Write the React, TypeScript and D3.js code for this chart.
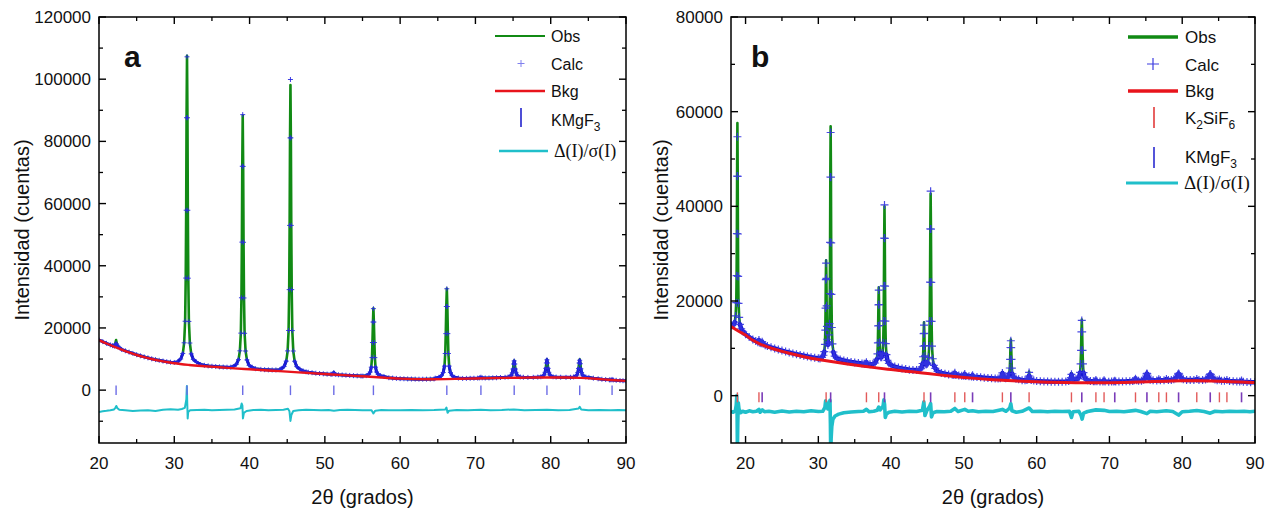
import React from "react";
import * as d3 from "d3";

type P = [number, number];

// ---------- axis ticks ----------
const xMajor = [20, 30, 40, 50, 60, 70, 80, 90];
const xMinor = [25, 35, 45, 55, 65, 75, 85];
const yMajorA = [0, 20000, 40000, 60000, 80000, 100000, 120000];
const yMinorA = [-10000, 10000, 30000, 50000, 70000, 90000, 110000];
const yMajorB = [0, 20000, 40000, 60000, 80000];
const yMinorB = [10000, 30000, 50000, 70000];

// ---------- panel a ----------
const obsA: P[] = [
  [20,16150],[20.5,15600],[21,15050],[21.5,14550],[21.8,14300],[22.05,14330],[22.17,15050],[22.27,16100],[22.37,14950],[22.5,14080],[22.75,13610],
  [23,13100],[23.5,12650],[24,12220],[24.5,11800],[25,11400],[25.5,11040],[26,10700],[26.5,10380],[27,10080],[27.5,9820],[28,9580],[28.5,9350],[29,9140],[29.5,8980],[30,8900],
  [30.43,9100],[30.85,10020],[31.13,11770],[31.31,15220],[31.44,22160],[31.52,36040],[31.58,57860],[31.63,87610],[31.69,107500],[31.75,87600],[31.8,57850],[31.86,36000],[31.94,22100],[32.07,15150],[32.25,11650],[32.53,9880],[32.95,9050],
  [33.5,8250],[34,7980],[34.5,7800],[35,7680],[35.5,7580],[36,7480],[36.5,7420],[37,7380],[37.5,7400],
  [37.83,7600],[38.25,8330],[38.53,9800],[38.71,12640],[38.84,18330],[38.92,29710],[38.98,47600],[39.03,72000],[39.09,88300],[39.15,71950],[39.2,47550],[39.26,29650],[39.34,18280],[39.47,12580],[39.65,9720],[39.93,8000],[40.35,7350],
  [40.8,6900],[41.5,6680],[42,6580],[42.5,6520],[43,6480],[43.5,6500],[44,6600],
  [44.17,6790],[44.59,7610],[44.87,9270],[45.05,12490],[45.18,18940],[45.26,31820],[45.32,52080],[45.37,79690],[45.43,98100],[45.49,79690],[45.54,52080],[45.6,31820],[45.68,18900],[45.81,12450],[45.99,9220],[46.27,7550],[46.69,6700],
  [47.1,6200],[47.5,5900],[47.8,5750],[48.3,5600],[48.8,5450],[49.3,5350],[49.8,5250],[50.3,5150],[50.8,5100],
  [50.95,5100],[51.09,5350],[51.19,5800],[51.29,5350],[51.45,5020],[51.8,4950],[52.3,4880],[52.8,4800],[53.3,4730],[53.8,4660],[54.3,4600],[54.8,4530],
  [55.05,4520],[55.5,4670],[55.82,5070],[56.03,5840],[56.17,7380],[56.26,10460],[56.32,15300],[56.39,21900],[56.45,26300],[56.51,21900],[56.58,15300],[56.64,10460],[56.73,7380],[56.87,5840],[57.08,5070],[57.4,4650],[57.85,4400],
  [58.5,4000],[59,3870],[59.5,3770],[60,3700],[60.5,3650],[61,3600],[61.5,3570],[62,3540],[62.5,3520],[63,3520],[63.5,3530],[64,3550],[64.5,3600],
  [64.66,3850],[65.15,4140],[65.5,4670],[65.72,5680],[65.89,7720],[65.99,11780],[66.06,18170],[66.13,26890],[66.2,32700],[66.27,26890],[66.34,18170],[66.41,11780],[66.51,7720],[66.68,5680],[66.9,4670],[67.25,4140],[67.74,3880],
  [68.3,3760],[68.8,3780],[69.3,3800],[69.8,3830],[70.3,3870],[70.55,3950],[70.73,4200],[70.9,3950],[71.3,3900],[71.8,3920],[72.3,3950],[72.8,3980],
  [73.33,4060],[73.93,4140],[74.34,4240],[74.6,4430],[74.79,4810],[74.9,5580],[74.99,6780],[75.07,8410],[75.15,9500],[75.23,8410],[75.31,6780],[75.4,5580],[75.51,4810],[75.7,4430],[75.96,4240],[76.37,4140],[76.97,4100],
  [77.68,4130],[78.28,4200],[78.69,4300],[78.95,4510],[79.14,4910],[79.25,5720],[79.34,7000],[79.42,8740],[79.5,9900],[79.58,8740],[79.66,7000],[79.75,5720],[79.86,4910],[80.05,4510],[80.31,4300],[80.72,4200],[81.32,4150],
  [82.03,4120],[82.63,4140],[83.04,4250],[83.3,4460],[83.49,4870],[83.6,5690],[83.69,6980],[83.77,8730],[83.85,9900],[83.93,8730],[84.01,6980],[84.1,5690],[84.21,4870],[84.4,4460],[84.66,4250],[85.07,4100],[85.67,3850],
  [86.3,3650],[86.8,3500],[87.3,3400],[87.8,3300],[88,3300],[88.15,3500],[88.3,3270],[88.7,3150],[89.2,3080],[89.6,3030],[90,2990],
];

const calcA: P[] = [
  [20,16100],[20.5,15600],[21,15050],[21.5,14550],[21.8,14300],[22.05,14170],[22.17,14520],[22.27,15000],[22.37,14500],[22.5,13950],[22.75,13610],
  [23,13100],[23.5,12650],[24,12220],[24.5,11800],[25,11400],[25.5,11040],[26,10700],[26.5,10380],[27,10080],[27.5,9820],[28,9580],[28.5,9350],[29,9140],[29.5,8980],[30,8900],
  [30.43,9100],[30.85,10020],[31.13,11770],[31.31,15220],[31.44,22160],[31.52,36040],[31.58,57860],[31.63,87610],[31.69,107200],[31.75,87600],[31.8,57850],[31.86,36000],[31.94,22100],[32.07,15150],[32.25,11650],[32.53,9880],[32.95,9050],
  [33.5,8250],[34,7980],[34.5,7800],[35,7680],[35.5,7580],[36,7480],[36.5,7420],[37,7380],[37.5,7400],
  [37.83,7600],[38.25,8330],[38.53,9800],[38.71,12640],[38.84,18330],[38.92,29710],[38.98,47600],[39.03,72000],[39.09,88600],[39.15,71950],[39.2,47550],[39.26,29650],[39.34,18280],[39.47,12580],[39.65,9720],[39.93,8000],[40.35,7350],
  [40.8,6900],[41.5,6680],[42,6580],[42.5,6520],[43,6480],[43.5,6500],[44,6600],
  [44.17,6800],[44.59,7640],[44.87,9330],[45.05,12620],[45.18,19190],[45.26,32330],[45.32,52980],[45.37,81130],[45.43,99900],[45.49,81130],[45.54,52980],[45.6,32330],[45.68,19150],[45.81,12580],[45.99,9280],[46.27,7580],[46.69,6700],
  [47.1,6200],[47.5,5900],[47.8,5750],[48.3,5600],[48.8,5450],[49.3,5350],[49.8,5250],[50.3,5150],[50.8,5100],
  [50.95,5100],[51.09,5300],[51.19,5650],[51.29,5300],[51.45,5020],[51.8,4950],[52.3,4880],[52.8,4800],[53.3,4730],[53.8,4660],[54.3,4600],[54.8,4530],
  [55.05,4520],[55.5,4670],[55.82,5070],[56.03,5840],[56.17,7380],[56.26,10460],[56.32,15300],[56.39,21900],[56.45,26200],[56.51,21900],[56.58,15300],[56.64,10460],[56.73,7380],[56.87,5840],[57.08,5070],[57.4,4650],[57.85,4400],
  [58.5,4000],[59,3870],[59.5,3770],[60,3700],[60.5,3650],[61,3600],[61.5,3570],[62,3540],[62.5,3520],[63,3520],[63.5,3530],[64,3550],[64.5,3600],
  [64.66,3850],[65.15,4140],[65.5,4670],[65.72,5680],[65.89,7720],[65.99,11780],[66.06,18170],[66.13,26890],[66.2,32600],[66.27,26890],[66.34,18170],[66.41,11780],[66.51,7720],[66.68,5680],[66.9,4670],[67.25,4140],[67.74,3880],
  [68.3,3760],[68.8,3780],[69.3,3800],[69.8,3830],[70.3,3870],[70.55,3950],[70.73,4150],[70.9,3950],[71.3,3900],[71.8,3920],[72.3,3950],[72.8,3980],
  [73.33,4060],[73.93,4140],[74.34,4240],[74.6,4430],[74.79,4810],[74.9,5580],[74.99,6780],[75.07,8410],[75.15,9400],[75.23,8410],[75.31,6780],[75.4,5580],[75.51,4810],[75.7,4430],[75.96,4240],[76.37,4140],[76.97,4100],
  [77.68,4130],[78.28,4200],[78.69,4300],[78.95,4510],[79.14,4910],[79.25,5720],[79.34,7000],[79.42,8740],[79.5,9750],[79.58,8740],[79.66,7000],[79.75,5720],[79.86,4910],[80.05,4510],[80.31,4300],[80.72,4200],[81.32,4150],
  [82.03,4120],[82.63,4140],[83.04,4250],[83.3,4460],[83.49,4870],[83.6,5690],[83.69,6980],[83.77,8730],[83.85,9600],[83.93,8500],[84.01,6850],[84.1,5690],[84.21,4870],[84.4,4460],[84.66,4250],[85.07,4100],[85.67,3850],
  [86.3,3650],[86.8,3500],[87.3,3400],[87.8,3300],[88,3300],[88.15,3450],[88.3,3270],[88.7,3150],[89.2,3080],[89.6,3030],[90,2990],
];

const bkgA: P[] = [
  [20,16100],[21,15000],[22,14000],[23,13050],[24,12150],[25,11300],[26,10600],[27,10000],[28,9500],[29,9050],[30,8650],
  [32,8100],[34,7700],[36,7350],[38,7000],[40,6700],[42,6400],[44,6100],[46,5800],[48,5500],[50,5200],[52,4900],[54,4600],
  [56,4300],[58,4000],[60,3700],[62,3550],[64,3500],[66,3550],[68,3650],[70,3750],[72,3850],[74,3950],[76,4000],[78,4050],
  [80,4050],[82,4050],[84,3950],[86,3650],[88,3280],[90,2980],
];

const diffA: P[] = [
  [20,-7000],[20.5,-6800],[21,-6650],[21.5,-6450],[22,-6200],[22.2,-5600],[22.3,-5100],[22.45,-5800],[22.7,-6300],[23.5,-6500],[24.5,-6700],
  [25.5,-6550],[26.5,-6450],[27.5,-6700],[28.5,-6300],[29.5,-6150],[30.5,-6300],[31,-6050],[31.4,-5700],[31.6,-3000],[31.67,1300],[31.72,-4000],
  [31.78,-9100],[31.85,-7000],[32.1,-6500],[33,-6350],[34,-6300],[35,-6500],[36,-6400],[37,-6300],[38,-6200],[38.8,-5800],[38.95,-4300],
  [39.05,-5000],[39.12,-9100],[39.25,-7300],[39.6,-6700],[40.5,-6400],[41.5,-6300],[42.5,-6500],[43.5,-6400],[44.5,-6300],[45.1,-6000],
  [45.3,-6800],[45.43,-9900],[45.55,-8000],[45.8,-6700],[46.5,-6500],[47.5,-6300],[48.5,-6400],[49.5,-6500],[50.5,-6400],[51.2,-6650],
  [52,-6400],[53,-6300],[54,-6400],[55,-6500],[56.2,-6450],[56.45,-7500],[56.7,-6600],[57.5,-6400],[58.5,-6500],[60,-6450],[61.5,-6350],
  [63,-6500],[64.5,-6400],[66,-6200],[66.15,-5600],[66.3,-7300],[66.5,-6600],[67.5,-6400],[69,-6500],[70.7,-6300],[72,-6450],[73.5,-6400],
  [75.1,-6200],[76.5,-6450],[78,-6400],[79.5,-6300],[81,-6450],[82.5,-6400],[83.7,-5900],[83.85,-5350],[84.05,-6200],[85,-6450],
  [86.5,-6400],[88,-6500],[89,-6400],[90,-6450],
];

const kmgf3A = [22.27, 31.69, 39.09, 45.43, 51.19, 56.45, 66.2, 70.73, 75.15, 79.5, 83.85, 88.15];

// ---------- panel b ----------
const obsB: P[] = [
  [18,14850],[18.09,14850],[18.36,14990],[18.53,15630],[18.64,17050],[18.726,20050],[18.775,26150],[18.81,35700],[18.845,48750],[18.88,57600],[18.915,48700],[18.95,35600],[18.985,26000],[19.034,19800],[19.12,16700],[19.23,15080],[19.4,14140],[19.67,13500],
  [20,12950],[20.5,12400],[21,11870],[21.4,11540],[21.7,11300],[21.84,11900],[21.97,11200],[22.15,11100],[22.28,11450],[22.42,10950],[22.7,10650],
  [23,10470],[23.5,10210],[24,9970],[24.5,9740],[25,9520],[25.5,9310],[26,9120],[26.5,8930],[27,8750],[27.5,8580],[28,8420],[28.5,8270],[29,8130],[29.5,8000],[30,7900],
  [30.23,7870],[30.51,8110],[30.7,8540],[30.82,9320],[30.905,10840],[30.96,13830],[30.995,18500],[31.03,24850],[31.07,28600],[31.11,25140],[31.145,18990],[31.18,14620],[31.235,11920],[31.32,10700],[31.4,11300],[31.47,12860],[31.53,15210],[31.58,21580],[31.615,32400],[31.65,47170],[31.69,56900],[31.73,47120],[31.765,32300],[31.8,21400],[31.855,14400],[31.94,10950],[32.065,9230],[32.25,8340],[32.53,7900],
  [33,7650],[33.5,7450],[34,7280],[34.5,7130],[35,7000],[35.5,6880],[36,6780],[36.3,6740],[36.45,6720],[36.61,7150],[36.77,6700],[37.1,6650],[37.5,6700],
  [37.8,6900],[38.03,7690],[38.124,8850],[38.18,11140],[38.22,14740],[38.26,19640],[38.3,22900],[38.34,19680],[38.38,14820],[38.42,11260],[38.476,9050],[38.57,8110],[38.7,8130],[38.82,8990],[38.914,11170],[38.97,15800],[39.01,23200],[39.05,33300],[39.09,40000],[39.13,33250],[39.17,23150],[39.21,15740],[39.266,11000],[39.36,8650],[39.49,7450],[39.69,6830],[39.99,6480],
  [40.5,6150],[41,5930],[41.5,5760],[42,5620],[42.5,5500],[43,5420],[43.5,5400],[43.9,5480],
  [44.09,5700],[44.23,6080],[44.33,6800],[44.39,8220],[44.435,10440],[44.477,13470],[44.52,15500],[44.563,13520],[44.605,10560],[44.65,8420],[44.71,7160],[44.81,6580],[44.95,6670],[45.05,6900],[45.15,8110],[45.24,10500],[45.3,15750],[45.345,23980],[45.387,35230],[45.43,42700],[45.473,35200],[45.515,23950],[45.56,15700],[45.62,10450],[45.72,7800],[45.86,6400],[46.07,5750],[46.38,5150],
  [46.9,4800],[47.4,4620],[47.9,4480],[48.4,4400],[48.62,4370],[48.76,4950],[48.9,4340],[49.3,4280],[49.7,4220],[49.98,4190],[50.12,4700],[50.26,4160],[50.7,4100],[51.05,4050],[51.19,4350],[51.33,4010],
  [51.8,3950],[52.3,3880],[52.8,3810],[53.3,3750],[53.8,3690],[54.3,3640],[54.7,3620],
  [55,3700],[55.15,4000],[55.29,4950],[55.43,4050],[55.6,3760],[55.74,3690],[55.97,3790],[56.13,4080],[56.24,4670],[56.31,5840],[56.355,7680],[56.4,10180],[56.45,11850],[56.5,10150],[56.545,7650],[56.59,5800],[56.66,4630],[56.77,4050],[56.93,3750],[57.16,3600],[57.52,3470],
  [58,3280],[58.4,3240],[58.66,3330],[58.79,3470],[58.86,3730],[58.91,4150],[58.96,5100],[59.01,4150],[59.06,3730],[59.13,3470],[59.26,3330],[59.6,3180],
  [60,3100],[60.5,3050],[61,3010],[61.5,2980],[62,2950],[62.5,2930],[63,2920],[63.5,2940],[64,3000],[64.4,3100],
  [64.63,3450],[64.71,3800],[64.78,4800],[64.85,3850],[64.93,3550],[65.1,3420],[65.41,3500],[65.68,3610],[65.85,4000],[65.97,4900],[66.04,6700],[66.1,9580],[66.15,13490],[66.2,16100],[66.25,13490],[66.3,9580],[66.36,6700],[66.43,4880],[66.55,3960],[66.72,3510],[66.99,3270],[67.38,3100],
  [67.8,3030],[68,3050],[68.14,3400],[68.28,3020],[68.7,2980],[69.1,2990],[69.26,3300],[69.4,2980],[69.9,2960],[70.3,2970],[70.6,2990],[70.73,3200],[70.86,2990],[71.3,2980],[71.8,3000],[72.3,3020],[72.8,3060],
  [73.2,3100],[73.42,3250],[73.58,3700],[73.74,3260],[74,3150],[74.4,3170],[74.7,3350],[74.9,3700],[75.02,4150],[75.1,4600],[75.15,4800],[75.2,4600],[75.28,4150],[75.4,3700],[75.6,3380],[76,3240],
  [76.5,3220],[76.78,3500],[77,3240],[77.5,3250],[77.83,3550],[78.1,3300],[78.5,3320],[78.85,3450],[79.1,3700],[79.3,4100],[79.42,4550],[79.5,4800],[79.58,4550],[79.7,4100],[79.9,3700],[80.15,3450],[80.6,3320],
  [81.1,3300],[81.6,3290],[82,3550],[82.3,3290],[82.8,3300],[83.2,3420],[83.45,3650],[83.65,4000],[83.77,4450],[83.85,4700],[83.93,4450],[84.05,4000],[84.25,3650],[84.5,3420],[84.8,3250],
  [85.11,3450],[85.4,3170],[85.8,3130],[86.14,3350],[86.5,3080],[87,3030],[87.5,2990],[87.9,2980],[88.15,3230],[88.4,2950],[88.9,2900],[89.4,2860],[90,2820],
];

const calcB: P[] = [
  [18,14850],[18.09,14850],[18.36,14990],[18.53,15530],[18.64,16850],[18.726,19650],[18.775,25350],[18.81,34250],[18.845,46400],[18.88,54700],[18.915,46350],[18.95,34150],[18.985,25200],[19.034,19500],[19.12,16550],[19.23,15080],[19.4,14140],[19.67,13500],
  [20,12950],[20.5,12400],[21,11870],[21.4,11540],[21.7,11300],[21.84,11750],[21.97,11200],[22.15,11100],[22.28,11400],[22.42,10950],[22.7,10650],
  [23,10470],[23.5,10210],[24,9970],[24.5,9740],[25,9520],[25.5,9310],[26,9120],[26.5,8930],[27,8750],[27.5,8580],[28,8420],[28.5,8270],[29,8130],[29.5,8000],[30,7900],
  [30.23,7870],[30.51,8110],[30.7,8540],[30.82,9320],[30.905,10840],[30.96,13830],[30.995,18500],[31.03,24500],[31.07,28000],[31.11,24800],[31.145,18990],[31.18,14620],[31.235,11920],[31.32,10700],[31.4,11300],[31.47,12860],[31.53,15210],[31.58,21580],[31.615,32400],[31.65,46200],[31.69,55600],[31.73,46150],[31.765,32300],[31.8,21400],[31.855,14400],[31.94,10950],[32.065,9230],[32.25,8340],[32.53,7900],
  [33,7650],[33.5,7450],[34,7280],[34.5,7130],[35,7000],[35.5,6880],[36,6780],[36.3,6740],[36.45,6720],[36.61,7050],[36.77,6700],[37.1,6650],[37.5,6700],
  [37.8,6900],[38.03,7690],[38.124,8850],[38.18,11140],[38.22,14740],[38.26,19200],[38.3,22300],[38.34,19250],[38.38,14820],[38.42,11260],[38.476,9050],[38.57,8110],[38.7,8130],[38.82,8990],[38.914,11170],[38.97,15800],[39.01,23200],[39.05,33300],[39.09,40300],[39.13,33250],[39.17,23150],[39.21,15740],[39.266,11000],[39.36,8650],[39.49,7450],[39.69,6830],[39.99,6480],
  [40.5,6150],[41,5930],[41.5,5760],[42,5620],[42.5,5500],[43,5420],[43.5,5400],[43.9,5480],
  [44.09,5700],[44.23,6080],[44.33,6800],[44.39,8220],[44.435,10440],[44.477,13100],[44.52,14900],[44.563,13150],[44.605,10560],[44.65,8420],[44.71,7160],[44.81,6580],[44.95,6670],[45.05,6900],[45.15,8110],[45.24,10500],[45.3,15750],[45.345,23980],[45.387,35230],[45.43,43200],[45.473,35200],[45.515,23950],[45.56,15700],[45.62,10450],[45.72,7800],[45.86,6400],[46.07,5750],[46.38,5150],
  [46.9,4800],[47.4,4620],[47.9,4480],[48.4,4400],[48.62,4370],[48.76,4850],[48.9,4340],[49.3,4280],[49.7,4220],[49.98,4190],[50.12,4600],[50.26,4160],[50.7,4100],[51.05,4050],[51.19,4300],[51.33,4010],
  [51.8,3950],[52.3,3880],[52.8,3810],[53.3,3750],[53.8,3690],[54.3,3640],[54.7,3620],
  [55,3700],[55.15,4000],[55.29,4800],[55.43,4050],[55.6,3760],[55.74,3690],[55.97,3790],[56.13,4080],[56.24,4670],[56.31,5840],[56.355,7680],[56.4,10180],[56.45,11600],[56.5,10150],[56.545,7650],[56.59,5800],[56.66,4630],[56.77,4050],[56.93,3750],[57.16,3600],[57.52,3470],
  [58,3280],[58.4,3240],[58.66,3330],[58.79,3470],[58.86,3730],[58.91,4150],[58.96,4900],[59.01,4150],[59.06,3730],[59.13,3470],[59.26,3330],[59.6,3180],
  [60,3100],[60.5,3050],[61,3010],[61.5,2980],[62,2950],[62.5,2930],[63,2920],[63.5,2940],[64,3000],[64.4,3100],
  [64.63,3450],[64.71,3800],[64.78,4500],[64.85,3850],[64.93,3550],[65.1,3420],[65.41,3500],[65.68,3610],[65.85,4000],[65.97,4900],[66.04,6700],[66.1,9580],[66.15,13490],[66.2,15900],[66.25,13490],[66.3,9580],[66.36,6700],[66.43,4880],[66.55,3960],[66.72,3510],[66.99,3270],[67.38,3100],
  [67.8,3030],[68,3050],[68.14,3300],[68.28,3020],[68.7,2980],[69.1,2990],[69.26,3260],[69.4,2980],[69.9,2960],[70.3,2970],[70.6,2990],[70.73,3150],[70.86,2990],[71.3,2980],[71.8,3000],[72.3,3020],[72.8,3060],
  [73.2,3100],[73.42,3250],[73.58,3600],[73.74,3260],[74,3150],[74.4,3170],[74.7,3350],[74.9,3700],[75.02,4150],[75.1,4600],[75.15,4700],[75.2,4600],[75.28,4150],[75.4,3700],[75.6,3380],[76,3240],
  [76.5,3220],[76.78,3450],[77,3240],[77.5,3250],[77.83,3500],[78.1,3300],[78.5,3320],[78.85,3450],[79.1,3700],[79.3,4100],[79.42,4550],[79.5,4700],[79.58,4550],[79.7,4100],[79.9,3700],[80.15,3450],[80.6,3320],
  [81.1,3300],[81.6,3290],[82,3500],[82.3,3290],[82.8,3300],[83.2,3420],[83.45,3650],[83.65,4000],[83.77,4450],[83.85,4600],[83.93,4450],[84.05,4000],[84.25,3650],[84.5,3420],[84.8,3250],
  [85.11,3420],[85.4,3170],[85.8,3130],[86.14,3320],[86.5,3080],[87,3030],[87.5,2990],[87.9,2980],[88.15,3200],[88.4,2950],[88.9,2900],[89.4,2860],[90,2820],
];

const bkgB: P[] = [
  [18,14600],[19,13650],[20,12800],[20.5,12230],[21,11700],[22,10900],[23,10300],[24,9800],[25,9350],[26,8950],[27,8580],[28,8230],
  [29,7920],[30,7650],[32,7150],[34,6680],[36,6250],[38,5870],[40,5520],[42,5180],[44,4850],[46,4500],[48,4150],[50,3850],[52,3600],
  [54,3380],[56,3200],[58,3050],[60,2920],[62,2830],[64,2770],[66,2730],[68,2720],[70,2740],[72,2800],[74,2880],[76,2980],[78,3070],
  [80,3130],[82,3130],[84,3080],[86,2990],[88,2880],[90,2780],
];

const diffB: P[] = [
  [18,-3300],[18.3,-3500],[18.6,-3200],[18.72,-2000],[18.8,0],[18.84,-4000],[18.88,-11500],[18.93,-6000],[19,-1500],[19.1,-2800],[19.3,-3600],
  [19.6,-3300],[20,-3500],[20.5,-3200],[21,-3400],[21.5,-3300],[21.84,-2900],[22,-3500],[22.3,-3000],[22.6,-3400],[23.2,-3300],[24,-3500],
  [25,-3250],[26,-3450],[27,-3300],[28,-3400],[29,-3200],[30,-3350],[30.6,-3300],[30.9,-2500],[31,-1100],[31.1,-2000],[31.3,-2800],
  [31.5,-1500],[31.6,-1000],[31.66,-6000],[31.7,-12000],[31.76,-9000],[31.85,-6500],[32,-5000],[32.3,-4300],[32.8,-3900],[33.5,-3600],
  [34.5,-3450],[35.5,-3350],[36.2,-3300],[36.61,-2900],[37,-3400],[37.6,-3300],[38.1,-3100],[38.3,-2400],[38.5,-3000],[38.9,-2200],
  [39,-900],[39.1,-1800],[39.2,-4600],[39.35,-3900],[39.7,-3500],[40.5,-3300],[41.5,-3450],[42.5,-3300],[43.5,-3350],[44.3,-3100],
  [44.5,-1300],[44.65,-4200],[44.9,-3200],[45.3,-2200],[45.43,-1700],[45.55,-4500],[45.75,-3600],[46.3,-3350],[47.3,-3400],[48.2,-3300],
  [48.76,-2700],[49.2,-3350],[50.12,-2900],[50.6,-3300],[51.2,-3200],[52,-3400],[53,-3300],[54,-3350],[55.29,-2900],[55.8,-3300],
  [56.3,-2600],[56.45,-1700],[56.6,-3200],[57.2,-3500],[58,-3300],[58.96,-2600],[59.4,-3350],[60.5,-3300],[61.5,-3400],[62.5,-3300],
  [63.5,-3350],[64.5,-3300],[64.78,-4600],[65,-3400],[65.8,-3300],[66.1,-4200],[66.25,-4950],[66.45,-3700],[67,-3350],[68.14,-3000],
  [69.26,-3100],[70,-3350],[71,-3300],[72,-3400],[73.58,-3100],[74.3,-3350],[75.15,-3800],[75.6,-3300],[76.5,-3400],[77.8,-3200],
  [78.7,-3350],[79.5,-4100],[80,-3400],[81,-3300],[82,-3150],[83,-3350],[83.85,-3700],[84.5,-3300],[85.5,-3400],[86.5,-3300],
  [87.5,-3350],[88.5,-3300],[89.3,-3400],[90,-3300],
];

const k2sif6B = [18.88, 21.84, 31.07, 36.61, 38.3, 44.52, 48.76, 50.12, 55.29, 58.96, 64.78, 68.14, 69.26, 73.58, 76.78, 77.83, 82.0, 85.11, 86.14];
const kmgf3B = [22.28, 31.69, 39.09, 45.43, 51.19, 56.45, 66.2, 70.73, 75.15, 79.5, 83.85, 88.15];

// ---------- colours ----------
const GREEN = "#118a14";
const BLUE = "#1616d2";
const RED = "#e8141c";
const CYAN = "#20bfca";

type Refl = { pos: number[]; color: string; width: number };

interface PanelProps {
  id: string;
  xDomain: [number, number];
  left: number;
  right: number;
  yDomain: [number, number];
  top: number;
  bottom: number;
  yMajor: number[];
  yMinor: number[];
  obs: P[];
  calc: P[];
  bkg: P[];
  diff: P[];
  refl: Refl[];
  reflSpan: [number, number];
  obsW: number;
  calcBandW: number;
  markSize: number;
  markColor: string;
  markW: number;
  bkgW: number;
  diffW: number;
  yTitleX: number;
}

function flatPath(pts: [number, number][], maxSlope: number): string {
  let d = "";
  let open = false;
  for (let i = 1; i < pts.length; i++) {
    const [x0, y0] = pts[i - 1];
    const [x1, y1] = pts[i];
    const dx = Math.abs(x1 - x0);
    const dy = Math.abs(y1 - y0);
    if (dy <= maxSlope * dx + 1.5) {
      if (!open) {
        d += `M${x0.toFixed(2)},${y0.toFixed(2)}`;
        open = true;
      }
      d += `L${x1.toFixed(2)},${y1.toFixed(2)}`;
    } else open = false;
  }
  return d;
}

function Panel(p: PanelProps) {
  const x = d3.scaleLinear().domain(p.xDomain).range([p.left, p.right]);
  const y = d3.scaleLinear().domain(p.yDomain).range([p.bottom, p.top]);
  const line = d3.line<P>().x((d) => x(d[0])).y((d) => y(d[1]));
  const smooth = d3
    .line<P>()
    .x((d) => x(d[0]))
    .y((d) => y(d[1]))
    .curve(d3.curveMonotoneX);
  const calcPx: [number, number][] = p.calc.map((d) => [x(d[0]), y(d[1])]);
  const band = flatPath(calcPx, 5);
  const s = p.markSize / 2;
  const marks = calcPx
    .map(([cx, cy]) => `M${(cx - s).toFixed(2)},${cy.toFixed(2)}h${p.markSize}M${cx.toFixed(2)},${(cy - s).toFixed(2)}v${p.markSize}`)
    .join("");
  const clipId = `clip-${p.id}`;
  const midY = (p.top + p.bottom) / 2;
  const midX = (p.left + p.right) / 2;
  return (
    <g>
      <defs>
        <clipPath id={clipId}>
          <rect x={p.left} y={p.top} width={p.right - p.left} height={p.bottom - p.top} />
        </clipPath>
      </defs>
      <g clipPath={`url(#${clipId})`}>
        <path d={line(p.obs) || ""} fill="none" stroke={GREEN} strokeWidth={p.obsW} strokeLinejoin="round" />
        <path d={band} fill="none" stroke={BLUE} strokeWidth={p.calcBandW} strokeLinejoin="round" strokeLinecap="round" />
        <path d={marks} fill="none" stroke={p.markColor} strokeWidth={p.markW} opacity={0.9} />
        <path d={smooth(p.bkg) || ""} fill="none" stroke={RED} strokeWidth={p.bkgW} strokeLinejoin="round" />
        <path d={line(p.diff) || ""} fill="none" stroke={CYAN} strokeWidth={p.diffW} strokeLinejoin="round" />
        {p.refl.map((r, i) =>
          r.pos.map((v, j) => (
            <line
              key={`r${i}-${j}`}
              x1={x(v)}
              x2={x(v)}
              y1={y(p.reflSpan[0])}
              y2={y(p.reflSpan[1])}
              stroke={r.color}
              strokeWidth={r.width}
            />
          ))
        )}
      </g>
      <rect x={p.left} y={p.top} width={p.right - p.left} height={p.bottom - p.top} fill="none" stroke="#000" strokeWidth={1.5} />
      {xMajor.map((v) => (
        <g key={`xm${v}`}>
          <line x1={x(v)} x2={x(v)} y1={p.bottom} y2={p.bottom - 7} stroke="#000" strokeWidth={1.4} />
          <line x1={x(v)} x2={x(v)} y1={p.top} y2={p.top + 7} stroke="#000" strokeWidth={1.4} />
          <text x={x(v)} y={p.bottom + 26} fontSize={17} textAnchor="middle" fill="#111">
            {v}
          </text>
        </g>
      ))}
      {xMinor.map((v) => (
        <g key={`xn${v}`}>
          <line x1={x(v)} x2={x(v)} y1={p.bottom} y2={p.bottom - 4} stroke="#000" strokeWidth={1.3} />
          <line x1={x(v)} x2={x(v)} y1={p.top} y2={p.top + 4} stroke="#000" strokeWidth={1.3} />
        </g>
      ))}
      {p.yMajor.map((v) => (
        <g key={`ym${v}`}>
          <line x1={p.left} x2={p.left + 7} y1={y(v)} y2={y(v)} stroke="#000" strokeWidth={1.4} />
          <line x1={p.right} x2={p.right - 7} y1={y(v)} y2={y(v)} stroke="#000" strokeWidth={1.4} />
          <text x={p.left - 8} y={y(v) + 6} fontSize={17} textAnchor="end" fill="#111">
            {v}
          </text>
        </g>
      ))}
      {p.yMinor.map((v) => (
        <g key={`yn${v}`}>
          <line x1={p.left} x2={p.left + 4} y1={y(v)} y2={y(v)} stroke="#000" strokeWidth={1.3} />
          <line x1={p.right} x2={p.right - 4} y1={y(v)} y2={y(v)} stroke="#000" strokeWidth={1.3} />
        </g>
      ))}
      <text x={midX} y={504} fontSize={20} textAnchor="middle" fill="#111">
        2θ (grados)
      </text>
      <text transform={`translate(${p.yTitleX},${midY}) rotate(-90)`} fontSize={20} textAnchor="middle" fill="#111">
        Intensidad (cuentas)
      </text>
    </g>
  );
}

export default function App() {
  return (
    <svg
      width={1271}
      height={511}
      viewBox="0 0 1271 511"
      style={{ position: "absolute", left: 0, top: 0, background: "#fff" }}
      fontFamily="'Liberation Sans', Arial, Helvetica, sans-serif"
    >
      <rect x={0} y={0} width={1271} height={511} fill="#fff" />
      <Panel
        id="a"
        xDomain={[20, 90]}
        left={99}
        right={626}
        yDomain={[-17000, 120000]}
        top={17}
        bottom={443}
        yMajor={yMajorA}
        yMinor={yMinorA}
        obs={obsA}
        calc={calcA}
        bkg={bkgA}
        diff={diffA}
        refl={[{ pos: kmgf3A, color: "#6c6ce6", width: 1.4 }]}
        reflSpan={[1500, -1600]}
        obsW={2.6}
        calcBandW={3}
        markSize={5}
        markColor="#2a2ae0"
        markW={1}
        bkgW={2.4}
        diffW={2}
        yTitleX={29}
      />
      <Panel
        id="b"
        xDomain={[18, 90]}
        left={731}
        right={1255}
        yDomain={[-10000, 80000]}
        top={17}
        bottom={443}
        yMajor={yMajorB}
        yMinor={yMinorB}
        obs={obsB}
        calc={calcB}
        bkg={bkgB}
        diff={diffB}
        refl={[
          { pos: k2sif6B, color: "#e25a5a", width: 1.4 },
          { pos: kmgf3B, color: "#7a3cb8", width: 1.6 },
        ]}
        reflSpan={[700, -1400]}
        obsW={2.6}
        calcBandW={4.5}
        markSize={8}
        markColor="#3434e0"
        markW={1.2}
        bkgW={3}
        diffW={3.6}
        yTitleX={668}
      />

      <text x={124} y={67} fontSize={30} fontWeight="bold" fill="#111">a</text>
      <text x={751} y={67} fontSize={30} fontWeight="bold" fill="#111">b</text>

      <g fontSize={16} fill="#111">
        <line x1={495} x2={545} y1={36} y2={36} stroke={GREEN} strokeWidth={2} />
        <text x={551} y={42}>Obs</text>
        <path d="M517.5,63.5h7M521,60v7" stroke="#8080ee" strokeWidth={1} />
        <text x={551} y={70}>Calc</text>
        <line x1={495} x2={545} y1={91} y2={91} stroke={RED} strokeWidth={2.4} />
        <text x={551} y={97}>Bkg</text>
        <line x1={521} x2={521} y1={108} y2={127} stroke="#2222cc" strokeWidth={1.6} />
        <text x={551} y={126}>
          KMgF<tspan dy={5} fontSize={12}>3</tspan>
        </text>
        <line x1={499} x2={548} y1={151} y2={151} stroke={CYAN} strokeWidth={2.4} />
        <text x={554} y={157} fontFamily="'Liberation Serif', 'Times New Roman', serif" fontSize={18}>
          Δ(I)/σ(I)
        </text>
      </g>

      <g fontSize={17} fill="#111">
        <line x1={1128} x2={1178} y1={37} y2={37} stroke={GREEN} strokeWidth={3.4} />
        <text x={1185} y={43}>Obs</text>
        <path d="M1147,64h12M1153,58v12" stroke="#3c3ce0" strokeWidth={1.2} />
        <text x={1185} y={71}>Calc</text>
        <line x1={1128} x2={1178} y1={91} y2={91} stroke={RED} strokeWidth={3.4} />
        <text x={1185} y={97}>Bkg</text>
        <line x1={1154} x2={1154} y1={107} y2={128} stroke="#e23a3a" strokeWidth={1.6} />
        <text x={1185} y={124}>
          K<tspan dy={5} fontSize={12}>2</tspan>
          <tspan dy={-5}>SiF</tspan>
          <tspan dy={5} fontSize={12}>6</tspan>
        </text>
        <line x1={1154} x2={1154} y1={147} y2={168} stroke="#2a2ad0" strokeWidth={1.6} />
        <text x={1185} y={163}>
          KMgF<tspan dy={5} fontSize={12}>3</tspan>
        </text>
        <line x1={1126} x2={1178} y1={183} y2={183} stroke={CYAN} strokeWidth={3} />
        <text x={1184} y={189} fontFamily="'Liberation Serif', 'Times New Roman', serif" fontSize={19}>
          Δ(I)/σ(I)
        </text>
      </g>
    </svg>
  );
}
